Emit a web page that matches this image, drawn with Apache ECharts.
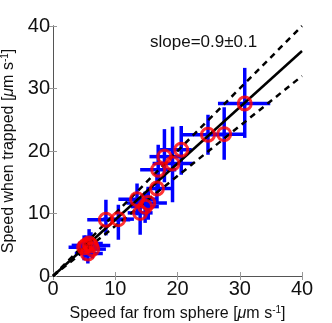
<!DOCTYPE html>
<html>
<head>
<meta charset="utf-8">
<script src="https://cdn.jsdelivr.net/npm/echarts@6/dist/echarts.min.js"></script>
<style>
  html, body { margin: 0; padding: 0; background: #fff; }
  #chart { width: 332px; height: 323px; }
</style>
</head>
<body>
<div id="chart"></div>
<script>
// measured points: speed far from sphere (x) vs speed when trapped (y)
var xVals = [30.8, 27.5, 24.9, 20.6, 17.9, 19.2, 16.9, 16.7, 13.5, 15.3, 14.8, 14.0, 10.5, 8.5, 5.0, 5.6, 6.1, 5.8, 6.3, 5.3];
var yVals = [27.6, 22.7, 22.6, 20.2, 19.1, 18.0, 17.0, 14.0, 12.3, 11.7, 11.1, 10.1, 9.1, 9.0, 4.6, 3.6, 4.9, 5.2, 4.3, 4.9];
// error bar ends
var xLow  = [26.5, 24.5, 20.5, 17.2, 15.5, 16.0, 14.0, 15.0, 10.5, 11.8, 12.5, 12.0, 8.0, 5.5, 2.5, 3.5, 4.0, 4.0, 4.5, 3.0];
var xHigh = [34.9, 30.8, 27.7, 22.3, 20.5, 22.5, 19.8, 19.0, 16.7, 18.3, 17.0, 16.0, 13.0, 12.4, 7.5, 8.0, 9.2, 8.0, 8.5, 7.0];
var yLow  = [22.1, 18.6, 19.4, 16.2, 15.0, 11.8, 13.5, 11.8, 9.7, 9.0, 8.5, 6.6, 5.8, 6.5, 2.5, 2.0, 3.0, 3.5, 2.8, 3.0];
var yHigh = [33.3, 27.0, 25.8, 24.0, 23.5, 23.9, 21.0, 16.5, 14.8, 14.0, 13.5, 12.3, 11.4, 12.2, 6.5, 5.5, 7.0, 7.5, 6.0, 6.5];
// fit lines
var fitSlope = 0.9;
var fitLow = 0.8;
var fitHigh = 1.0;

var errData = xVals.map(function (x, i) {
  return [x, yVals[i], xLow[i], xHigh[i], yLow[i], yHigh[i]];
});
var pts = xVals.map(function (x, i) { return [x, yVals[i]]; });
function line(k) { return [[0, 0], [40, 40 * k]]; }

var mychart = echarts.init(document.getElementById('chart'));
var fnt = 'Liberation Sans';
var axisCommon = {
  type: 'value', min: 0, max: 40, interval: 10,
  axisLine: { show: true, lineStyle: { color: '#555', width: 1 } },
  axisTick: { show: true, inside: true, length: 4, lineStyle: { color: '#999' } },
  splitLine: { show: false }
};
var nameRich = {
  t: { fontSize: 16, fontFamily: fnt, color: '#111', lineHeight: 18 },
  m: { fontSize: 16, fontFamily: fnt, color: '#111', fontStyle: 'italic', lineHeight: 18 },
  s: { fontSize: 10, fontFamily: fnt, color: '#111', padding: [0, 0, 8, 0] }
};

mychart.setOption({
  animation: false,
  grid: { left: 53, top: 26, width: 249, height: 250, containLabel: false, outerBoundsMode: 'none' },
  xAxis: [
    Object.assign({}, axisCommon, {
      position: 'bottom',
      axisLabel: { color: '#111', fontSize: 20, fontFamily: fnt, margin: 3 },
      name: '{t|Speed far from sphere [}{m|μ}{t|m s}{s|-1}{t|]}',
      nameLocation: 'middle', nameGap: 29,
      nameTextStyle: { rich: nameRich }
    }),
    Object.assign({}, axisCommon, { position: 'top', axisLabel: { show: false } })
  ],
  yAxis: [
    Object.assign({}, axisCommon, {
      position: 'left',
      axisLabel: { color: '#111', fontSize: 20, fontFamily: fnt, margin: 3 },
      name: '{t|Speed when trapped [}{m|μ}{t|m s}{s|-1}{t|]}',
      nameLocation: 'middle', nameGap: 35,
      nameTextStyle: { rich: nameRich }
    }),
    Object.assign({}, axisCommon, { position: 'right', axisLabel: { show: false } })
  ],
  series: [
    {
      type: 'line', data: line(fitHigh), symbol: 'none', z: 3,
      lineStyle: { color: '#000', width: 2.5, type: [6, 5] }
    },
    {
      type: 'line', data: line(fitLow), symbol: 'none', z: 3,
      lineStyle: { color: '#000', width: 2.5, type: [6, 5] }
    },
    {
      type: 'line', data: line(fitSlope), symbol: 'none', z: 3,
      lineStyle: { color: '#000', width: 2.5 }
    },
    {
      type: 'custom', data: errData, z: 2,
      renderItem: function (params, api) {
        var y = api.value(1), x = api.value(0);
        var a = api.coord([api.value(2), y]);
        var b = api.coord([api.value(3), y]);
        var c = api.coord([x, api.value(4)]);
        var d = api.coord([x, api.value(5)]);
        var st = { stroke: '#0000ff', lineWidth: 3.5 };
        return {
          type: 'group',
          children: [
            { type: 'line', shape: { x1: a[0], y1: a[1], x2: b[0], y2: b[1] }, style: st },
            { type: 'line', shape: { x1: c[0], y1: c[1], x2: d[0], y2: d[1] }, style: st }
          ]
        };
      }
    },
    {
      type: 'scatter', data: pts, z: 4,
      symbol: 'circle', symbolSize: 13,
      itemStyle: { color: 'rgba(0,0,0,0)', borderColor: '#ff0000', borderWidth: 3 }
    }
  ],
  graphic: [
    {
      type: 'text', left: 150, top: 34,
      style: { text: 'slope=0.9±0.1', fontSize: 17, fontFamily: fnt, fill: '#111' }
    }
  ]
});
</script>
</body>
</html>
